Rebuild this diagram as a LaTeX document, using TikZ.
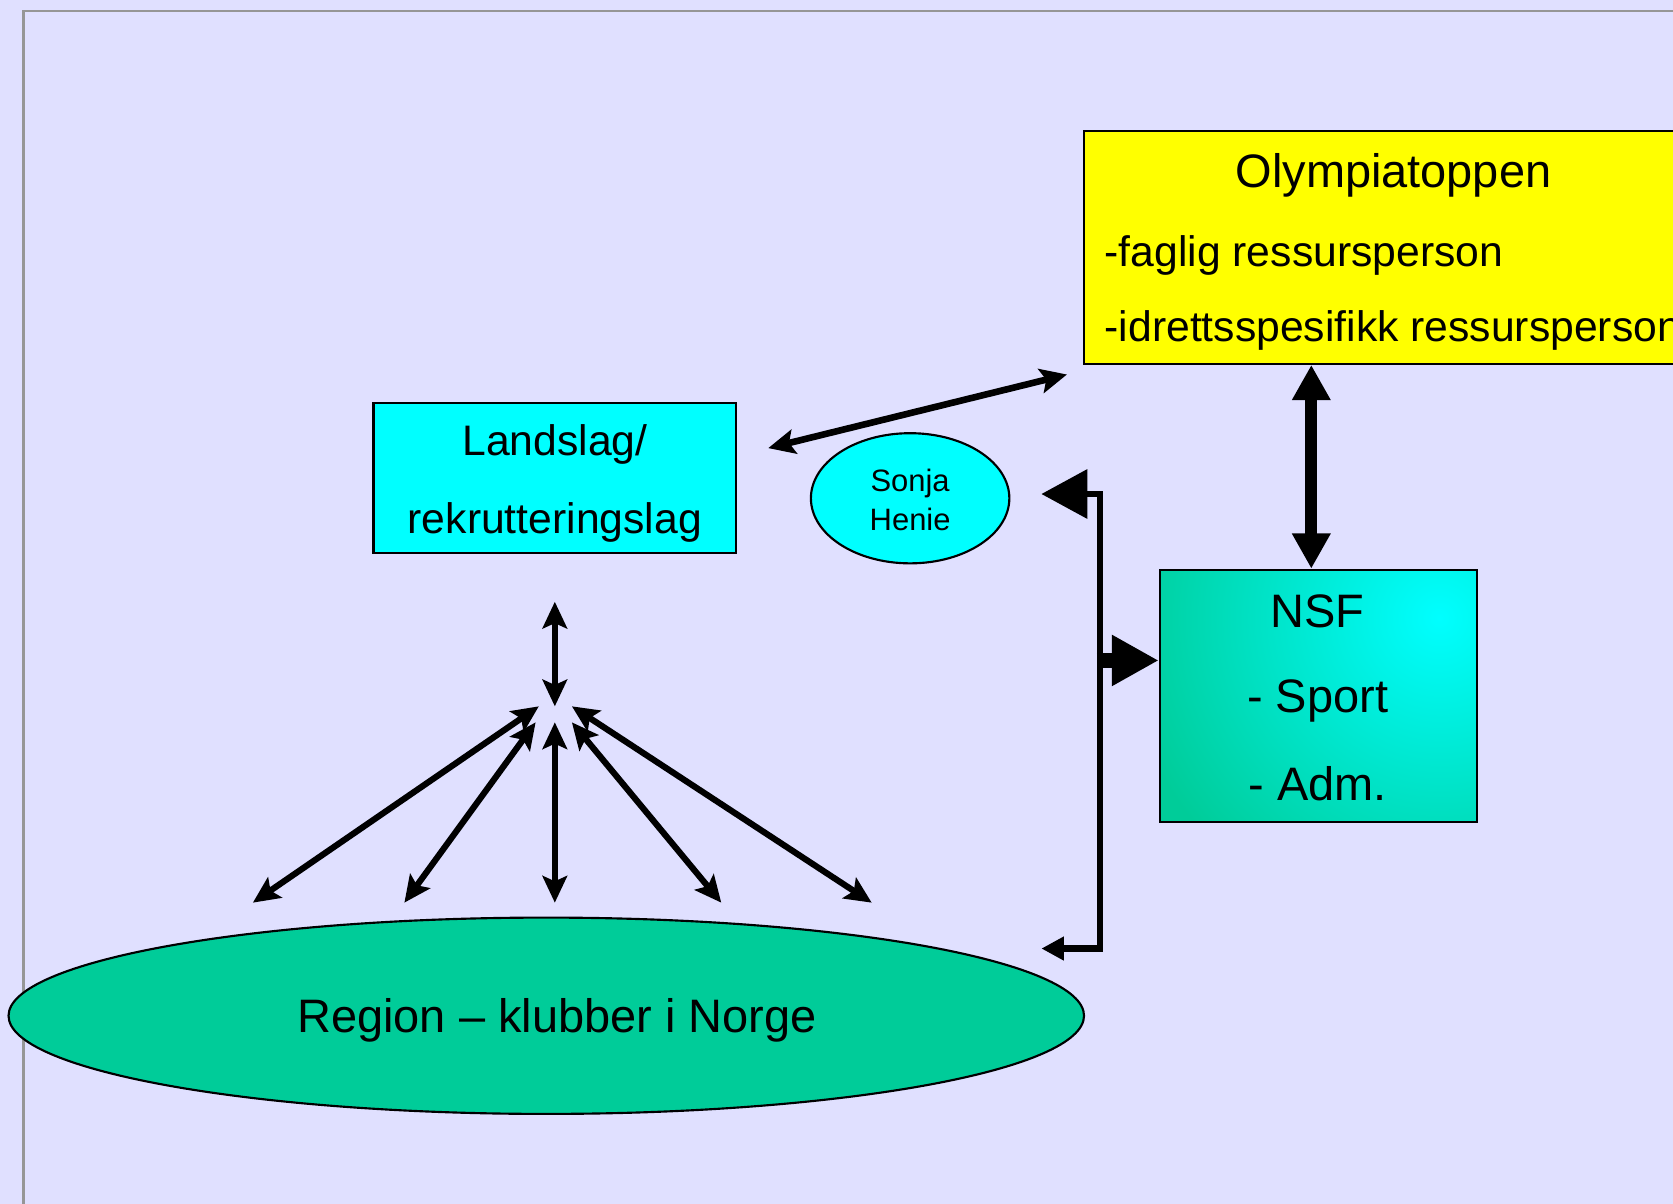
\documentclass[tikz,border=0pt]{standalone}
\usepackage{fontspec}
\setmainfont{Liberation Sans}
\usetikzlibrary{arrows.meta,calc,shapes.geometric}
\definecolor{bg}{RGB}{224,224,255}
\definecolor{tealc}{RGB}{0,204,153}
\definecolor{cyanc}{RGB}{0,255,255}
\definecolor{yelc}{RGB}{255,255,0}
\definecolor{framec}{RGB}{150,150,150}
\begin{document}
\begin{tikzpicture}[x=0.5pt,y=-0.5pt,
  box/.style={draw=black,line width=1pt,inner sep=0pt},
  oval/.style={ellipse,draw=black,line width=1pt,inner sep=0pt},
  fbig/.style={font=\fontsize{22}{26}\selectfont},
  fmid/.style={font=\fontsize{20}{24}\selectfont},
  fsmall/.style={font=\fontsize{14.5}{17}\selectfont},
  txt/.style={inner sep=0pt,anchor=base},
  fan/.style={line width=2.9pt,{Stealth[length=12.5pt,width=11.5pt,inset=2.5pt]}-{Stealth[length=12.5pt,width=11.5pt,inset=2.5pt]}},
  thick arrow/.style={line width=5.5pt,{Triangle[length=16.5pt,width=17pt]}-{Triangle[length=16.5pt,width=17pt]}},
]
\useasboundingbox (0,0) rectangle (1568,1128);
\clip (0,0) rectangle (1568,1128);
\fill[bg] (0,0) rectangle (1568,1128);
\draw[framec,line width=1pt] (22,1128) -- (22,10) -- (1568,10);

% Olympiatoppen
\node[box,fill=yelc,minimum width=302pt,minimum height=109pt] (olymp) at (1318,232) {};
\node[txt,fbig] (olt) at (1306,176) {Olympiatoppen};
\node[txt,fmid,anchor=base west] (ol1) at (1035,250) {-faglig ressursperson};
\node[txt,fmid,anchor=base west] (ol2) at (1035,320) {-idrettsspesifikk ressursperson};

% Landslag
\node[box,fill=cyanc,minimum width=170pt,minimum height=70pt] (land) at (520,448) {};
\node[txt,fmid] (land1) at (520,427) {Landslag/};
\node[txt,fmid] (land2) at (520,500) {rekrutteringslag};

% Sonja Henie
\node[oval,fill=cyanc,minimum width=93pt,minimum height=61pt] (sonja) at (853,467) {};
\node[txt,fsmall] (sonja1) at (853,461) {Sonja};
\node[txt,fsmall] (sonja2) at (853,497) {Henie};

% NSF
\node[box,fill=tealc,minimum width=148.5pt,minimum height=118pt,
  path picture={\shade[inner color=cyanc,outer color=tealc]
    ($(path picture bounding box.north east)+(-35,45)$) circle (150pt);}] (nsf) at (1235.5,652) {};
\node[txt,fbig] (nsf1) at (1235,588) {NSF};
\node[txt,fbig] (nsf2) at (1235,668) {- Sport};
\node[txt,fbig] (nsf3) at (1235,750) {- Adm.};

% Region
\node[oval,fill=tealc,minimum width=504pt,minimum height=92pt] (region) at (512,952) {};
\node[txt,fbig] (regtxt) at (522,968) {Region – klubber i Norge};

% Landslag <-> Olympiatoppen
\draw[fan,line width=3.1pt] ($(land.east)+(29,-28)$) -- ($(olymp.south west)+(-15,9)$);

% Olympiatoppen <-> NSF
\draw[thick arrow] ($(olymp.south)+(-89,0)$) -- ($(nsf.north)+(-6.5,0)$);

% bracket connector
\coordinate (sjtip) at ($(sonja.east)+(29,-4)$);
\coordinate (rgtip) at ($(region.east)+(-41,-63)$);
\coordinate (bustop) at ($(sjtip)+(55,0)$);
\coordinate (busbot) at ($(rgtip)+(55,0)$);
\draw[line width=3pt,{Triangle[length=21.5pt,width=22.5pt]}-{Triangle[length=10.5pt,width=10.5pt]}]
  (sjtip) -- (bustop) -- (busbot) -- (rgtip);
\draw[line width=7pt,-{Triangle[length=22pt,width=22.5pt]}] ($(nsf.west)+(-58,-33)$) -- ($(nsf.west)+(0,-33)$);

% fan
\coordinate (hubv1) at ($(land.south)+(0,45)$);
\coordinate (hubv2) at ($(land.south)+(0,143)$);
\draw[fan] (hubv1) -- (hubv2);
\coordinate (h1) at (505,662);
\coordinate (h2) at (502,677);
\coordinate (h3) at (520,677);
\coordinate (h4) at (536,677);
\coordinate (h5) at (536,662);
\coordinate (b1) at (237,846);
\coordinate (b2) at (379,846);
\coordinate (b3) at (520,846);
\coordinate (b4) at (676,846);
\coordinate (b5) at (817,846);
\foreach \i in {1,...,5} {\draw[fan] (h\i) -- (b\i);}
\end{tikzpicture}
\end{document}
